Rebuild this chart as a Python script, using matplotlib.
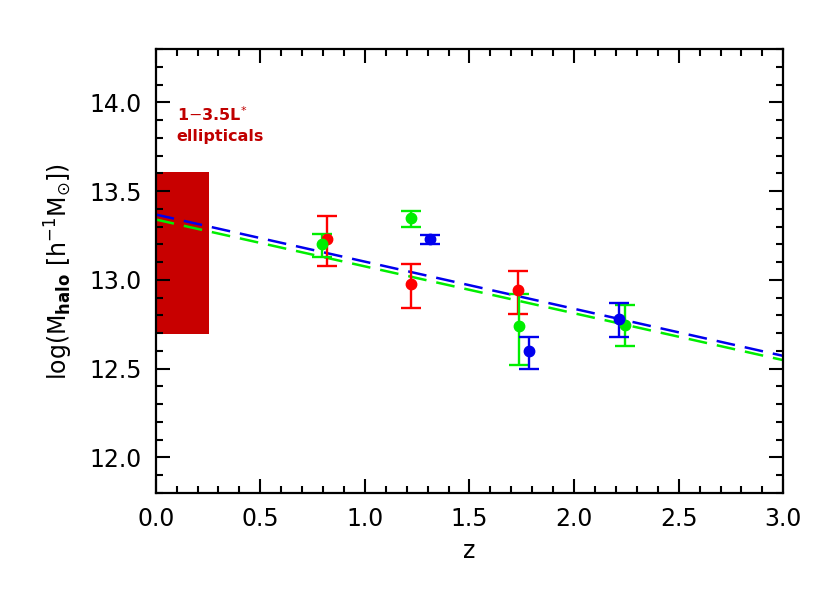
import numpy as np
import matplotlib
matplotlib.use("Agg")
import matplotlib.pyplot as plt
from matplotlib.patches import Rectangle
from matplotlib.ticker import MultipleLocator, FormatStrFormatter

# data
red_z = [0.820, 1.219, 1.730]
red_m = [13.230, 12.979, 12.942]
red_lo = [13.080, 12.839, 12.809]
red_hi = [13.361, 13.091, 13.048]

green_z = [0.796, 1.219, 1.735, 2.242]
green_m = [13.202, 13.348, 12.740, 12.748]
green_lo = [13.129, 13.297, 12.519, 12.628]
green_hi = [13.260, 13.389, 12.921, 12.860]

blue_z = [1.311, 1.783, 2.215]
blue_m = [13.230, 12.600, 12.781]
blue_lo = [13.202, 12.501, 12.678]
blue_hi = [13.250, 12.678, 12.871]

fit_z = [0.0, 3.0]
fit_blue = [13.368, 12.572]
fit_green = [13.340, 12.548]

# local ellipticals box
ell_z = [0.0, 0.256]
ell_m = [12.693, 13.610]

plt.rcParams['font.family'] = ['DejaVu Sans']

fig = plt.figure(figsize=(8.3, 5.93), dpi=100)
ax = fig.add_axes([0.1876, 0.1686, 0.9437 - 0.1876, 0.9174 - 0.1686])

ax.add_patch(Rectangle((ell_z[0], ell_m[0]), ell_z[1] - ell_z[0], ell_m[1] - ell_m[0],
                       facecolor='#c80000', edgecolor='none', zorder=1))

ax.plot(fit_z, fit_green, color='#00ee00', lw=1.8, dashes=(7.5, 4), zorder=2)
ax.plot(fit_z, fit_blue, color='#0000ee', lw=1.8, dashes=(7.5, 4), zorder=2)


def punti(z, m, lo, hi, cor):
    m = np.array(m)
    yerr = [m - np.array(lo), np.array(hi) - m]
    ax.errorbar(z, m, yerr=yerr, fmt='o', color=cor, ms=7.5, capsize=7.5,
                elinewidth=1.7, capthick=1.7, zorder=3)


punti(red_z, red_m, red_lo, red_hi, '#ff0000')
punti(green_z, green_m, green_lo, green_hi, '#00ee00')
punti(blue_z, blue_m, blue_lo, blue_hi, '#0000ee')

ax.text(0.10, 13.93, r'1$-$3.5L$^{*}$', color='#c00000', fontsize=11.5,
        fontweight='bold', ha='left', va='center')
ax.text(0.10, 13.81, 'ellipticals', color='#c00000', fontsize=11.5,
        fontweight='bold', ha='left', va='center')

ax.set_xlim(0, 3.0)
ax.set_ylim(11.8, 14.3)
ax.xaxis.set_major_locator(MultipleLocator(0.5))
ax.xaxis.set_minor_locator(MultipleLocator(0.1))
ax.yaxis.set_major_locator(MultipleLocator(0.5))
ax.yaxis.set_minor_locator(MultipleLocator(0.1))
ax.xaxis.set_major_formatter(FormatStrFormatter('%.1f'))
ax.yaxis.set_major_formatter(FormatStrFormatter('%.1f'))

ax.tick_params(which='both', direction='in', top=True, right=True, width=1.5,
               labelsize=17, pad=10)
ax.tick_params(which='major', length=10)
ax.tick_params(which='minor', length=5)
for s in ax.spines.values():
    s.set_linewidth(1.6)

ax.set_xlabel('z', fontsize=17, labelpad=6)
ax.set_ylabel(r'log(M$_{\mathbf{halo}}$ [h$^{-1}$M$_{\odot}$])', fontsize=17, labelpad=10)

fig.savefig('out.png', dpi=100)
